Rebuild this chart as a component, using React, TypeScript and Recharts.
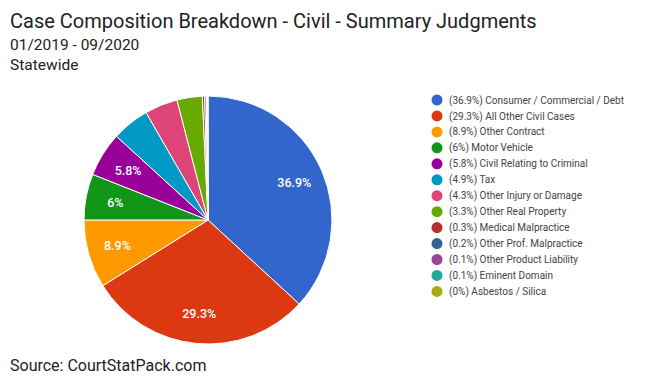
import { Cell, Legend, Pie, PieChart } from "recharts";

const CATEGORIES = [
  "Consumer / Commercial / Debt",
  "All Other Civil Cases",
  "Other Contract",
  "Motor Vehicle",
  "Civil Relating to Criminal",
  "Tax",
  "Other Injury or Damage",
  "Other Real Property",
  "Medical Malpractice",
  "Other Prof. Malpractice",
  "Other Product Liability",
  "Eminent Domain",
  "Asbestos / Silica",
];
const SHARES = [36.9, 29.3, 8.9, 6, 5.8, 4.9, 4.3, 3.3, 0.3, 0.2, 0.1, 0.1, 0.03];
const SHARE_LABELS = ["36.9%", "29.3%", "8.9%", "6%", "5.8%", "4.9%", "4.3%", "3.3%", "0.3%", "0.2%", "0.1%", "0.1%", "0%"];
const COLORS = [
  "#3366cc", "#dc3912", "#ff9900", "#109618", "#990099", "#0099c6", "#dd4477",
  "#66aa00", "#b82e2e", "#316395", "#994499", "#22aa99", "#aaaa11",
];

const data = CATEGORIES.map((name, i) => ({ name, value: SHARES[i], label: SHARE_LABELS[i] }));

const FONT = "Roboto, 'Noto Sans', sans-serif";
const RAD = Math.PI / 180;

function SliceLabel(props: any) {
  const { cx, cy, midAngle, outerRadius, index } = props;
  if (SHARES[index] < 5.5) return null;
  const r = outerRadius * 0.76;
  const x = cx + r * Math.cos(-midAngle * RAD);
  const y = cy + r * Math.sin(-midAngle * RAD);
  return (
    <text x={x} y={y} fill="#fff" fontSize={12.5} fontWeight={500} fontFamily={FONT} textAnchor="middle" dominantBaseline="central">
      {SHARE_LABELS[index]}
    </text>
  );
}

function LegendList() {
  return (
    <svg width={240} height={220} style={{ display: "block" }}>
      {CATEGORIES.map((name, i) => (
        <g key={name} transform={`translate(0, ${i * 15.95})`}>
          <circle cx={7} cy={8} r={5.5} fill={COLORS[i]} />
          <text x={19} y={11.6} fontSize={10} fontFamily={FONT} fill="#444">
            ({SHARE_LABELS[i]}) {name}
          </text>
        </g>
      ))}
    </svg>
  );
}

export default function App() {
  return (
    <div style={{ position: "absolute", left: 0, top: 0, width: 671, height: 381, background: "#fff" }}>
      <PieChart width={671} height={381} margin={{ top: 0, right: 0, bottom: 0, left: 0 }}>
        <Pie
          data={data}
          dataKey="value"
          nameKey="name"
          cx={208}
          cy={220}
          outerRadius={124}
          startAngle={90}
          endAngle={-270}
          stroke="#fff"
          strokeWidth={1}
          label={SliceLabel}
          labelLine={false}
          isAnimationActive={false}
        >
          {data.map((d, i) => (
            <Cell key={d.name} fill={COLORS[i]} />
          ))}
        </Pie>
        <Legend
          layout="vertical"
          verticalAlign="top"
          align="right"
          wrapperStyle={{ position: "absolute", left: 430, top: 92, width: 240 }}
          content={() => <LegendList />}
        />
      </PieChart>
      <svg width={671} height={381} style={{ position: "absolute", left: 0, top: 0, pointerEvents: "none" }}>
        <text x={10} y={28} fontSize={20} fontFamily={FONT} fill="#222">
          Case Composition Breakdown - Civil - Summary Judgments
        </text>
        <text x={10} y={50} fontSize={15.5} fontFamily={FONT} fill="#222">
          01/2019 - 09/2020
        </text>
        <text x={10} y={70} fontSize={15.5} fontFamily={FONT} fill="#222">
          Statewide
        </text>
        <text x={10} y={371} fontSize={16} fontFamily={FONT} fill="#222">
          Source: CourtStatPack.com
        </text>
      </svg>
    </div>
  );
}
